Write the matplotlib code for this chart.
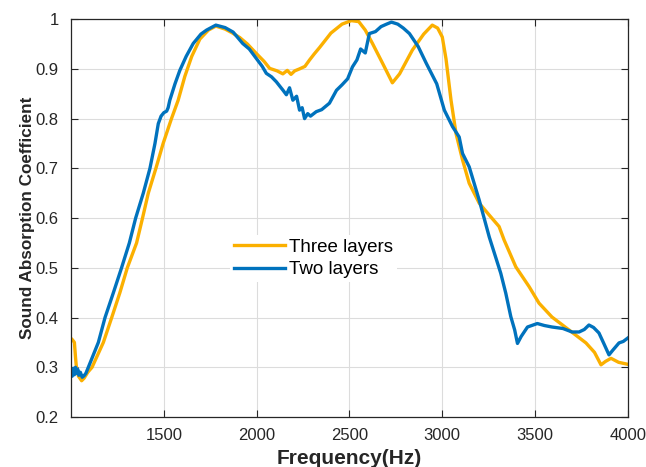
import matplotlib
matplotlib.use("Agg")
import matplotlib.pyplot as plt

plt.rcParams['font.family'] = ['Liberation Sans', 'DejaVu Sans']

# Three layers (orange)
freq_three = [1000, 1008, 1018, 1024, 1030, 1040, 1057, 1070, 1090, 1113, 1174,
              1219, 1263, 1303, 1353, 1385, 1416, 1457, 1496, 1541, 1577, 1613,
              1650, 1694, 1740, 1780, 1830, 1870, 1909, 1950, 1998, 2040, 2070,
              2110, 2141, 2165, 2185, 2205, 2231, 2260, 2285, 2310, 2339, 2400,
              2460, 2510, 2550, 2585, 2624, 2680, 2731, 2770, 2839, 2900, 2946,
              2975, 3000, 3020, 3047, 3074, 3109, 3145, 3199, 3253, 3306, 3333,
              3396, 3468, 3521, 3591, 3683, 3774, 3820, 3855, 3880, 3909, 3950,
              4000]
abs_three = [0.358, 0.355, 0.350, 0.320, 0.295, 0.282, 0.273, 0.278, 0.290, 0.300,
             0.350, 0.400, 0.450, 0.500, 0.550, 0.600, 0.650, 0.700, 0.750, 0.800,
             0.837, 0.885, 0.925, 0.960, 0.978, 0.986, 0.980, 0.972, 0.963, 0.950,
             0.931, 0.915, 0.901, 0.896, 0.890, 0.897, 0.889, 0.896, 0.900, 0.905,
             0.918, 0.930, 0.943, 0.972, 0.990, 0.997, 0.995, 0.978, 0.951, 0.910,
             0.872, 0.890, 0.938, 0.970, 0.988, 0.982, 0.964, 0.920, 0.837, 0.770,
             0.717, 0.670, 0.630, 0.606, 0.583, 0.556, 0.502, 0.462, 0.429, 0.401,
             0.375, 0.349, 0.330, 0.305, 0.312, 0.318, 0.310, 0.306]

# Two layers (blue)
freq_two = [1000, 1006, 1012, 1018, 1024, 1030, 1036, 1042, 1050, 1060, 1070,
            1080, 1093, 1147, 1183, 1228, 1272, 1314, 1348, 1389, 1425, 1452,
            1470, 1485, 1500, 1515, 1523, 1532, 1560, 1586, 1620, 1658, 1700,
            1730, 1780, 1830, 1873, 1925, 1960, 1998, 2030, 2052, 2080, 2106,
            2125, 2142, 2160, 2177, 2195, 2215, 2231, 2245, 2258, 2275, 2290,
            2321, 2350, 2392, 2430, 2460, 2490, 2516, 2540, 2560, 2585, 2607,
            2640, 2670, 2700, 2726, 2760, 2790, 2823, 2870, 2914, 2970, 3011,
            3055, 3091, 3109, 3145, 3199, 3253, 3315, 3342, 3369, 3390,
            3405, 3425, 3459, 3512, 3550, 3591, 3650, 3699, 3737, 3765, 3790,
            3815, 3844, 3870, 3898, 3920, 3952, 3975, 4000]
abs_two = [0.291, 0.282, 0.298, 0.285, 0.300, 0.288, 0.296, 0.284, 0.290, 0.280,
           0.283, 0.288, 0.300, 0.350, 0.400, 0.450, 0.500, 0.550, 0.600, 0.650,
           0.700, 0.750, 0.790, 0.805, 0.812, 0.815, 0.822, 0.837, 0.870, 0.897,
           0.925, 0.951, 0.970, 0.978, 0.988, 0.983, 0.974, 0.951, 0.940, 0.921,
           0.905, 0.891, 0.884, 0.874, 0.865, 0.857, 0.848, 0.862, 0.837, 0.845,
           0.817, 0.822, 0.800, 0.810, 0.805, 0.814, 0.818, 0.831, 0.857, 0.868,
           0.880, 0.904, 0.918, 0.940, 0.932, 0.971, 0.975, 0.985, 0.990, 0.994,
           0.990, 0.982, 0.971, 0.945, 0.911, 0.870, 0.817, 0.784, 0.763, 0.730,
           0.703, 0.636, 0.562, 0.489, 0.449, 0.402, 0.375, 0.348, 0.362,
           0.381, 0.388, 0.384, 0.381, 0.378, 0.371, 0.371, 0.376, 0.385, 0.380,
           0.369, 0.348, 0.325, 0.335, 0.349, 0.352, 0.359]

x_ticks = [1500, 2000, 2500, 3000, 3500, 4000]
y_ticks = [0.2, 0.3, 0.4, 0.5, 0.6, 0.7, 0.8, 0.9, 1.0]
y_tick_labels = ['0.2', '0.3', '0.4', '0.5', '0.6', '0.7', '0.8', '0.9', '1']

fig = plt.figure(figsize=(6.46, 4.67), dpi=100)
ax = fig.add_axes([0.110, 0.107, 0.862, 0.852])

ax.plot(freq_three, abs_three, color='#FBB000', lw=2.4, label='Three layers')
ax.plot(freq_two, abs_two, color='#0072BD', lw=2.4, label='Two layers')

ax.set_xlim(1000, 4000)
ax.set_ylim(0.2, 1.0)
ax.set_xticks(x_ticks)
ax.set_yticks(y_ticks)
ax.set_yticklabels(y_tick_labels)
ax.grid(True, color='#dcdcdc', lw=0.8)
ax.set_axisbelow(True)

ax.tick_params(direction='in', length=5, width=0.8, top=True, right=True,
               labelsize=12, colors='#262626')
ax.tick_params(axis='x', pad=8)
ax.tick_params(axis='y', pad=9)
for s in ax.spines.values():
    s.set_color('#262626')
    s.set_linewidth(0.9)

ax.set_xlabel('Frequency(Hz)', fontsize=15, fontweight='bold', color='#262626', labelpad=4)
ax.set_ylabel('Sound Absorption Coefficient', fontsize=12.3, fontweight='bold',
              color='#262626', labelpad=0)

leg = ax.legend(loc='upper left', bbox_to_anchor=(0.286, 0.458), fontsize=13.5,
                frameon=True, edgecolor='none', facecolor='white', framealpha=1,
                handlelength=2.7, handletextpad=0.25, labelspacing=0.3,
                borderpad=0.2, borderaxespad=0, fancybox=False)

fig.savefig('out.png', dpi=100)
